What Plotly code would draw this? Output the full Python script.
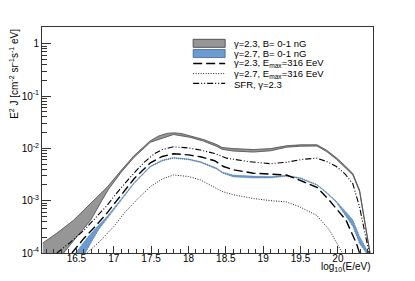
import plotly.graph_objects as go

# ---- data (log10(E/eV), E^2 J) ----
g23_up_x = [16.05, 16.24, 16.46, 16.69, 16.91, 17.1, 17.27, 17.49, 17.6, 17.71, 17.8, 17.9, 18.02, 18.2, 18.38, 18.45, 18.6, 18.87, 19.1, 19.31, 19.5, 19.72, 19.85, 19.98, 20.1, 20.2, 20.29, 20.38, 20.43]
g23_up_y = [1.55e-4, 2.4e-4, 4.2e-4, 8.9e-4, 1.8e-3, 3.8e-3, 7.2e-3, 0.0140, 0.0172, 0.0193, 0.0198, 0.0193, 0.0175, 0.0148, 0.0118, 0.0104, 0.0099, 0.0095, 0.0099, 0.0112, 0.0117, 0.0117, 0.0092, 0.0066, 0.0046, 0.0033, 0.0016, 2.7e-4, 1e-4]
g23_lo_x = [16.05, 16.33, 16.5, 16.69, 16.84, 16.93, 17.1, 17.27, 17.49, 17.8, 18.02, 18.2, 18.38, 18.45, 18.6, 18.87, 19.1, 19.31, 19.5, 19.72, 19.85, 19.98, 20.1, 20.2, 20.29, 20.38, 20.43]
g23_lo_y = [8e-5, 1e-4, 2.0e-4, 4.2e-4, 1.0e-3, 1.65e-3, 3.5e-3, 6.7e-3, 0.0131, 0.0184, 0.0163, 0.0138, 0.0109, 0.0096, 0.0089, 0.0085, 0.0090, 0.0105, 0.0110, 0.0111, 0.0087, 0.0062, 0.0043, 0.0031, 0.0015, 2.5e-4, 1e-4]

g27_up_x = [16.49, 16.65, 16.78, 16.91, 17.04, 17.27, 17.49, 17.65, 17.8, 18.0, 18.16, 18.38, 18.45, 18.6, 18.87, 19.1, 19.31, 19.5, 19.72, 19.85, 19.98, 20.1, 20.2, 20.29, 20.38, 20.43]
g27_up_y = [1e-4, 2.0e-4, 3.2e-4, 5.0e-4, 8.5e-4, 2.2e-3, 4.6e-3, 6.0e-3, 6.7e-3, 6.3e-3, 5.6e-3, 4.2e-3, 3.55e-3, 3.1e-3, 2.95e-3, 2.9e-3, 3.05e-3, 2.75e-3, 2.05e-3, 1.45e-3, 9.8e-4, 6.2e-4, 4.3e-4, 2.1e-4, 1.2e-4, 1e-4]
g27_lo_x = [16.49, 16.62, 16.72, 16.8, 16.91, 17.04, 17.27, 17.49, 17.65, 17.8, 18.0, 18.16, 18.38, 18.45, 18.6, 18.87, 19.1, 19.31, 19.5, 19.72, 19.85, 19.98, 20.1, 20.2, 20.29, 20.38, 20.43]
g27_lo_y = [8e-5, 1e-4, 1.8e-4, 2.8e-4, 4.6e-4, 8.0e-4, 2.1e-3, 4.4e-3, 5.75e-3, 6.45e-3, 6.05e-3, 5.35e-3, 4.0e-3, 3.4e-3, 2.85e-3, 2.7e-3, 2.72e-3, 2.92e-3, 2.62e-3, 1.97e-3, 1.39e-3, 9.2e-4, 5.2e-4, 3.2e-4, 1.5e-4, 1e-4, 1e-4]

emax23_x = [16.44, 16.6, 16.75, 16.91, 17.04, 17.27, 17.49, 17.65, 17.8, 18.0, 18.16, 18.35, 18.47, 18.6, 18.87, 19.1, 19.31, 19.54, 19.72, 19.89, 20.11, 20.25, 20.29]
emax23_y = [1e-4, 1.9e-4, 3.2e-4, 5.8e-4, 1.0e-3, 2.6e-3, 5.3e-3, 7.0e-3, 7.9e-3, 7.5e-3, 6.9e-3, 5.8e-3, 4.5e-3, 3.9e-3, 3.35e-3, 3.2e-3, 3.1e-3, 2.3e-3, 1.8e-3, 1.0e-3, 4.2e-4, 1.5e-4, 1e-4]

emax27_x = [16.64, 16.8, 17.0, 17.15, 17.35, 17.5, 17.65, 17.8, 18.0, 18.16, 18.38, 18.45, 18.6, 18.87, 19.1, 19.31, 19.5, 19.72, 19.89, 20.03, 20.06]
emax27_y = [1e-4, 1.6e-4, 3.2e-4, 6e-4, 1.2e-3, 1.9e-3, 2.6e-3, 3.1e-3, 2.9e-3, 2.5e-3, 1.7e-3, 1.5e-3, 1.3e-3, 1.1e-3, 1.0e-3, 9.5e-4, 7.5e-4, 5.2e-4, 2.7e-4, 1.2e-4, 1e-4]

sfr_x = [16.24, 16.42, 16.6, 16.75, 16.91, 17.04, 17.22, 17.4, 17.55, 17.65, 17.8, 18.0, 18.16, 18.35, 18.51, 18.8, 19.09, 19.3, 19.54, 19.72, 19.85, 19.98, 20.1, 20.2, 20.29, 20.36, 20.42]
sfr_y = [1e-4, 1.6e-4, 2.7e-4, 4.6e-4, 8.1e-4, 1.4e-3, 2.8e-3, 5.3e-3, 8.0e-3, 9.5e-3, 1.07e-2, 1.02e-2, 9.3e-3, 8.0e-3, 6.5e-3, 5.6e-3, 5.1e-3, 5.4e-3, 6.2e-3, 6.5e-3, 5.6e-3, 4.5e-3, 3.2e-3, 2.1e-3, 7.6e-4, 2.5e-4, 1e-4]

names = ["γ=2.3, B= 0-1 nG", "γ=2.7, B= 0-1 nG",
         "γ=2.3, E<sub>max</sub>=316 EeV", "γ=2.7, E<sub>max</sub>=316 EeV",
         "SFR, γ=2.3"]

x_tickvals = [16.5, 17, 17.5, 18, 18.5, 19, 19.5, 20]
x_ticktext = ["16.5", "17", "17.5", "18", "18.5", "19", "19.5", "20"]
y_tickvals = [1e-4, 1e-3, 1e-2, 1e-1, 1]
y_ticktext = ["10<sup>-4</sup>", "10<sup>-3</sup>", "10<sup>-2</sup>", "10<sup>-1</sup>", "1"]
y_minor = [m * 10 ** k for k in range(-4, 1) for m in range(2, 10)]

FONT = "Liberation Sans, Arial, sans-serif"
GRAY_FILL, GRAY_LINE = "#969696", "#555555"
BLUE_FILL, BLUE_LINE = "#6a9bd2", "#34567a"
DASH = "9px,4px"
DOT = "1px,1.5px"
DASHDOT = "6px,2px,1px,2px,1px,2px"

fig = go.Figure()
fig.add_trace(go.Scatter(
    x=g23_up_x + g23_lo_x[::-1], y=g23_up_y + g23_lo_y[::-1],
    fill="toself", fillcolor=GRAY_FILL, mode="lines",
    line=dict(color=GRAY_LINE, width=0.9), name=names[0], showlegend=False))
fig.add_trace(go.Scatter(
    x=g27_up_x + g27_lo_x[::-1], y=g27_up_y + g27_lo_y[::-1],
    fill="toself", fillcolor=BLUE_FILL, mode="lines",
    line=dict(color=BLUE_LINE, width=0.6, dash="1px,1px"), name=names[1], showlegend=False))
fig.add_trace(go.Scatter(x=emax23_x, y=emax23_y, mode="lines",
    line=dict(color="black", width=1.4, dash=DASH), name=names[2], showlegend=False))
fig.add_trace(go.Scatter(x=emax27_x, y=emax27_y, mode="lines",
    line=dict(color="#222", width=1, dash=DOT), name=names[3], showlegend=False))
fig.add_trace(go.Scatter(x=sfr_x, y=sfr_y, mode="lines",
    line=dict(color="black", width=1.1, dash=DASHDOT), name=names[4], showlegend=False))

# ---- manual legend (paper coordinates) ----
X0, X1, XT = 0.4567, 0.5533, 0.5744
rows_y = [0.9278, 0.8825, 0.8382, 0.7939, 0.7505]
BOX_H = 0.0177
fig.add_shape(type="rect", xref="paper", yref="paper", x0=X0, x1=X1,
              y0=rows_y[0] - BOX_H, y1=rows_y[0] + BOX_H,
              fillcolor=GRAY_FILL, line=dict(color=GRAY_LINE, width=1))
fig.add_shape(type="rect", xref="paper", yref="paper", x0=X0, x1=X1,
              y0=rows_y[1] - BOX_H, y1=rows_y[1] + BOX_H,
              fillcolor=BLUE_FILL, line=dict(color=BLUE_LINE, width=0.7))
for yy, dash, w, col in [(rows_y[2], DASH, 1.4, "black"), (rows_y[3], DOT, 1, "#222"),
                         (rows_y[4], DASHDOT, 1.1, "black")]:
    fig.add_shape(type="line", xref="paper", yref="paper", x0=X0, x1=X1, y0=yy, y1=yy,
                  line=dict(color=col, width=w, dash=dash))
text_y = [rows_y[0], rows_y[1], rows_y[2] + 0.001, rows_y[3] - 0.003, rows_y[4] - 0.007]
for nm, yy in zip(names, text_y):
    fig.add_annotation(text=nm, xref="paper", yref="paper", x=XT, y=yy,
                       xanchor="left", yanchor="middle", showarrow=False,
                       font=dict(size=9.5, family=FONT, color="black"))

fig.update_layout(
    width=415, height=281,
    margin=dict(l=42, r=42, t=27, b=28),
    paper_bgcolor="white", plot_bgcolor="white",
    font=dict(family=FONT, size=10, color="black"),
    showlegend=False,
    xaxis=dict(range=[16.04, 20.47], showgrid=False, zeroline=False,
               showline=True, mirror=True, linecolor="#333", linewidth=1,
               ticks="inside", ticklen=7, tickcolor="#333",
               tickvals=x_tickvals, ticktext=x_ticktext, ticklabelstandoff=-4,
               minor=dict(ticks="inside", ticklen=4, dtick=0.1, tick0=16.0, tickcolor="#333"),
               tickfont=dict(size=10)),
    yaxis=dict(type="log", range=[-4, 0.32], showgrid=False, zeroline=False,
               showline=True, mirror=True, linecolor="#333", linewidth=1,
               ticks="inside", ticklen=9, tickcolor="#333",
               tickvals=y_tickvals, ticktext=y_ticktext,
               minor=dict(ticks="inside", ticklen=5, tickvals=y_minor, tickcolor="#333"),
               tickfont=dict(size=10)),
)

fig.add_annotation(text="E<sup>2</sup> J [cm<sup>-2</sup> sr<sup>-1</sup>s<sup>-1</sup> eV]",
                   xref="paper", yref="paper", x=-0.085, y=1.0,
                   xanchor="center", yanchor="top", textangle=-90, showarrow=False,
                   font=dict(size=10, family=FONT))
fig.add_annotation(text="log<sub>10</sub>(E/eV)", xref="paper", yref="paper",
                   x=1.0, y=-0.025, xanchor="right", yanchor="top", showarrow=False,
                   font=dict(size=10, family=FONT))

fig.write_html("out.html", config={"displayModeBar": False},
               post_script="document.body.style.margin='0';document.body.style.overflow='hidden';")
